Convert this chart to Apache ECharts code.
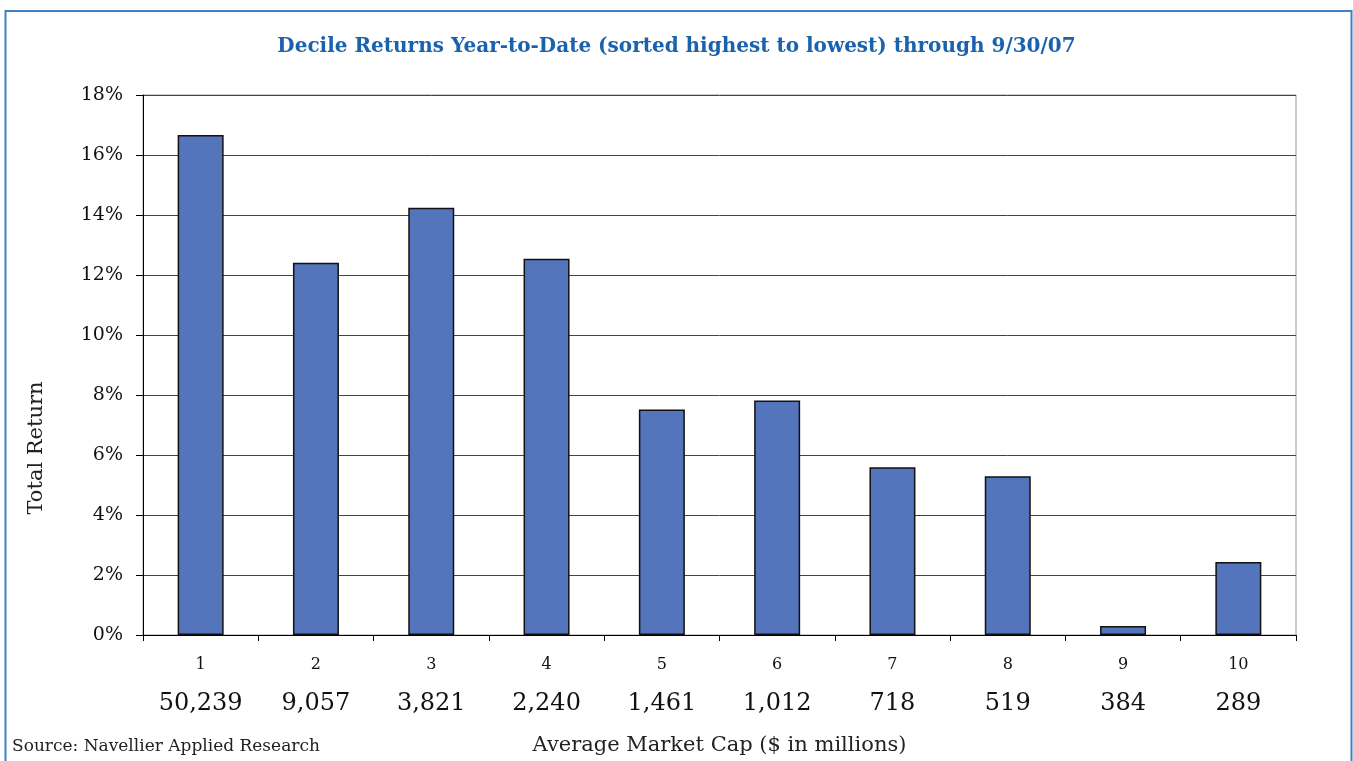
<!DOCTYPE html>
<html>
<head>
<meta charset="utf-8">
<script src="https://cdn.jsdelivr.net/npm/echarts@6/dist/echarts.min.js"></script>
<style>
  html, body { margin: 0; padding: 0; background: #fff; }
  #chart { width: 1353px; height: 761px; }
</style>
</head>
<body>
<div id="chart"></div>
<script>
// deciles, average market cap ($ millions), YTD total return (%)
const deciles = ["1", "2", "3", "4", "5", "6", "7", "8", "9", "10"];
const marketCaps = ["50,239", "9,057", "3,821", "2,240", "1,461", "1,012", "718", "519", "384", "289"];
const returns = [16.67, 12.41, 14.24, 12.54, 7.52, 7.82, 5.59, 5.29, 0.30, 2.43];

const serif = "DejaVu Serif";
const chart = echarts.init(document.getElementById("chart"));

chart.setOption({
  animation: false,
  title: {
    text: "Decile Returns Year-to-Date (sorted highest to lowest) through 9/30/07",
    left: "center",
    top: 32,
    textStyle: { fontFamily: serif, fontSize: 20, fontWeight: "bold", color: "#1b62ad" }
  },
  grid: {
    left: 143, right: 57, top: 95, bottom: 125,
    show: true, borderColor: "#999", borderWidth: 1
  },
  xAxis: {
    type: "category",
    data: deciles,
    axisLine: { lineStyle: { color: "#000", width: 1 } },
    axisTick: { show: true, length: 6, lineStyle: { color: "#000" } },
    axisLabel: {
      margin: 11,
      formatter: (v, i) => "{a|" + v + "}\n{b|" + marketCaps[i] + "}",
      rich: {
        a: { fontFamily: serif, fontSize: 16, color: "#111", lineHeight: 38 },
        b: { fontFamily: serif, fontSize: 24, color: "#111", lineHeight: 40 }
      }
    },
    name: "Average Market Cap ($ in millions)",
    nameLocation: "middle",
    nameGap: 100,
    nameTextStyle: { fontFamily: serif, fontSize: 21, color: "#222" }
  },
  yAxis: {
    type: "value",
    min: 0,
    max: 18,
    interval: 2,
    axisLine: { show: true, lineStyle: { color: "#000", width: 1 } },
    axisTick: { show: true, length: 7, lineStyle: { color: "#000" } },
    axisLabel: {
      margin: 20,
      formatter: "{value}%",
      fontFamily: serif, fontSize: 19, color: "#111"
    },
    splitLine: { lineStyle: { color: "#444", width: 1 } }
  },
  series: [{
    type: "bar",
    data: returns,
    barWidth: 46,
    itemStyle: { color: "#5474bb", borderColor: "#111", borderWidth: 1.5 }
  }],
  graphic: [
    {
      type: "rect",
      shape: { x: 5.5, y: 11, width: 1346, height: 800 },
      style: { fill: "none", stroke: "#3d80c4", lineWidth: 2 },
      silent: true
    },
    {
      type: "text",
      x: 37, y: 448,
      rotation: Math.PI / 2,
      style: {
        text: "Total Return",
        fontFamily: serif, fontSize: 21, fill: "#222",
        align: "center", verticalAlign: "middle"
      }
    },
    {
      type: "text",
      left: 12, top: 738,
      style: { text: "Source: Navellier Applied Research", fontFamily: serif, fontSize: 17, fill: "#222" }
    }
  ]
});
</script>
</body>
</html>
